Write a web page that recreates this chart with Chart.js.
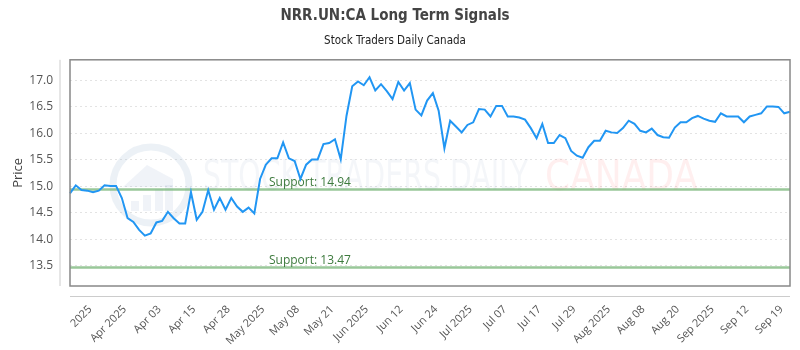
<!DOCTYPE html>
<html>
<head>
<meta charset="utf-8">
<script src="https://cdn.jsdelivr.net/npm/chart.js@4.4.0/dist/chart.umd.min.js"></script>
<style>
  body { margin: 0; background: #fff; }
</style>
</head>
<body>
<canvas id="signalChart" width="800" height="350"></canvas>
<script>
// closing prices
const prices = [
  14.87, 15.02, 14.93, 14.92, 14.89, 14.92, 15.02, 15.01, 15.01, 14.78,
  14.40, 14.33, 14.18, 14.07, 14.11, 14.32, 14.35, 14.52, 14.40, 14.30,
  14.30, 14.89, 14.37, 14.52, 14.93, 14.56, 14.78, 14.56, 14.78, 14.62,
  14.52, 14.60, 14.49, 15.14, 15.41, 15.53, 15.53, 15.83, 15.53, 15.48,
  15.14, 15.41, 15.51, 15.51, 15.80, 15.82, 15.89, 15.51, 16.33, 16.89,
  16.98, 16.91, 17.06, 16.81, 16.93, 16.80, 16.65, 16.97, 16.81, 16.95,
  16.45, 16.34, 16.62, 16.76, 16.43, 15.72, 16.24, 16.13, 16.02, 16.16,
  16.21, 16.46, 16.45, 16.32, 16.52, 16.52, 16.32, 16.32, 16.30, 16.26,
  16.10, 15.91, 16.18, 15.82, 15.82, 15.97, 15.91, 15.67, 15.58, 15.54,
  15.74, 15.86, 15.86, 16.05, 16.02, 16.01, 16.10, 16.24, 16.18, 16.05,
  16.02, 16.09, 15.97, 15.93, 15.92, 16.11, 16.21, 16.21, 16.29, 16.33,
  16.28, 16.24, 16.22, 16.38, 16.32, 16.32, 16.32, 16.21, 16.32, 16.35,
  16.38, 16.51, 16.51, 16.50, 16.38, 16.41
];

const tickLabels = [
  '2025', 'Apr 2025', 'Apr 03', 'Apr 15', 'Apr 28', 'May 2025', 'May 08',
  'May 21', 'Jun 2025', 'Jun 12', 'Jun 24', 'Jul 2025', 'Jul 07', 'Jul 17',
  'Jul 29', 'Aug 2025', 'Aug 08', 'Aug 20', 'Sep 2025', 'Sep 12', 'Sep 19'
];

const supportLevels = [14.94, 13.47];
const yTicks = [13.5, 14.0, 14.5, 15.0, 15.5, 16.0, 16.5, 17.0];

// one tick label every 6 points, starting at point 3
const firstTick = 3;
const tickStep = 6;
const categories = prices.map((_, i) => {
  const k = (i - firstTick) / tickStep;
  return (Number.isInteger(k) && k >= 0 && k < tickLabels.length) ? tickLabels[k] : '';
});

// watermark + support lines, under the price line
const backdrop = {
  id: 'backdrop',
  beforeDatasetsDraw(chart) {
    const { ctx, chartArea: a, scales: { y } } = chart;
    ctx.save();

    // logo ring
    const cx = a.left + 81, cy = 185;
    ctx.strokeStyle = 'rgba(170,190,215,0.22)';
    ctx.lineWidth = 7;
    ctx.beginPath();
    ctx.arc(cx, cy, 38, 0, Math.PI * 2);
    ctx.stroke();
    ctx.fillStyle = 'rgba(170,190,215,0.18)';
    ctx.beginPath();
    ctx.moveTo(cx - 28, cy + 2);
    ctx.lineTo(cx - 4, cy - 20);
    ctx.lineTo(cx + 22, cy - 6);
    ctx.lineTo(cx + 22, cy + 2);
    ctx.closePath();
    ctx.fill();
    [[-20, 10], [-8, 16], [4, 22], [14, 26]].forEach(([dx, h]) => {
      ctx.fillRect(cx + dx, cy + 26 - h, 8, h);
    });

    // watermark text
    ctx.textBaseline = 'middle';
    ctx.font = '42px "DejaVu Sans Condensed", "Noto Sans", sans-serif';
    const drawFit = (txt, x0, x1, color) => {
      const w = ctx.measureText(txt).width;
      ctx.save();
      ctx.translate(x0, 179);
      ctx.scale((x1 - x0) / w, 1);
      ctx.fillStyle = color;
      ctx.fillText(txt, 0, 0);
      ctx.restore();
    };
    drawFit('STOCK TRADERS DAILY', 203, 528, 'rgba(175,190,210,0.14)');
    drawFit('CANADA', 545, 698, 'rgba(255,120,120,0.12)');

    // support lines
    supportLevels.forEach(v => {
      const py = y.getPixelForValue(v);
      ctx.strokeStyle = 'rgba(110,175,110,0.7)';
      ctx.lineWidth = 2.5;
      ctx.beginPath();
      ctx.moveTo(a.left, py);
      ctx.lineTo(a.right, py);
      ctx.stroke();
      ctx.fillStyle = '#3d7a3d';
      ctx.font = '12px "Open Sans", sans-serif';
      ctx.textBaseline = 'bottom';
      ctx.fillText('Support: ' + v.toFixed(2), a.left + 199, py - 1);
    });
    ctx.restore();
  }
};

// plot frame and the detached axis lines
const frame = {
  id: 'frame',
  afterDraw(chart) {
    const { ctx, chartArea: a } = chart;
    ctx.save();
    ctx.strokeStyle = '#888';
    ctx.lineWidth = 1.5;
    ctx.strokeRect(a.left, a.top, a.right - a.left, a.bottom - a.top);
    ctx.strokeStyle = '#ccc';
    ctx.lineWidth = 1;
    ctx.beginPath();
    ctx.moveTo(a.left - 10, a.top);
    ctx.lineTo(a.left - 10, a.bottom);
    ctx.moveTo(a.left, a.bottom + 10.5);
    ctx.lineTo(a.right, a.bottom + 10.5);
    ctx.stroke();
    ctx.restore();
  }
};

new Chart(document.getElementById('signalChart'), {
  type: 'line',
  data: {
    labels: categories,
    datasets: [{
      label: 'NRR.UN:CA',
      data: prices,
      borderColor: '#2196f3',
      borderWidth: 2,
      pointRadius: 0,
      tension: 0,
      fill: false
    }]
  },
  options: {
    responsive: false,
    animation: false,
    layout: { padding: { right: 10 } },
    plugins: {
      legend: { display: false },
      tooltip: { enabled: false },
      title: {
        display: true,
        text: 'NRR.UN:CA Long Term Signals',
        color: '#444',
        font: { family: '"DejaVu Sans Condensed", "DejaVu Sans", sans-serif', size: 15, weight: 'bold' },
        padding: { top: 7, bottom: 5 }
      },
      subtitle: {
        display: true,
        text: 'Stock Traders Daily Canada',
        color: '#222',
        font: { family: '"DejaVu Sans Condensed", "DejaVu Sans", sans-serif', size: 11.5 },
        padding: { top: 4, bottom: 12 }
      }
    },
    scales: {
      x: {
        grid: { display: false, drawTicks: false },
        border: { display: false },
        ticks: {
          autoSkip: false,
          maxRotation: 45,
          minRotation: 45,
          padding: 17,
          labelOffset: 3,
          color: '#555',
          font: { family: '"Open Sans", sans-serif', size: 11 }
        },
        afterFit(scale) {
          scale.height = 64;
          scale.paddingLeft = 0;
          scale.paddingRight = 0;
        }
      },
      y: {
        min: 13.12,
        max: 17.39,
        afterBuildTicks(scale) { scale.ticks = yTicks.map(v => ({ value: v })); },
        grid: { color: '#e3e3e3', drawTicks: false },
        border: { display: false, dash: [2, 3] },
        ticks: {
          padding: 17,
          color: '#555',
          font: { family: '"Open Sans", sans-serif', size: 12 },
          callback: v => v.toFixed(1)
        },
        title: {
          display: true,
          text: 'Price',
          color: '#444',
          font: { family: '"Open Sans", sans-serif', size: 13 },
          padding: { top: 10, bottom: 0 }
        },
        afterFit(scale) {
          scale.width = 70;
          scale.paddingTop = 0;
          scale.paddingBottom = 0;
        }
      }
    }
  },
  plugins: [backdrop, frame]
});
</script>
</body>
</html>
